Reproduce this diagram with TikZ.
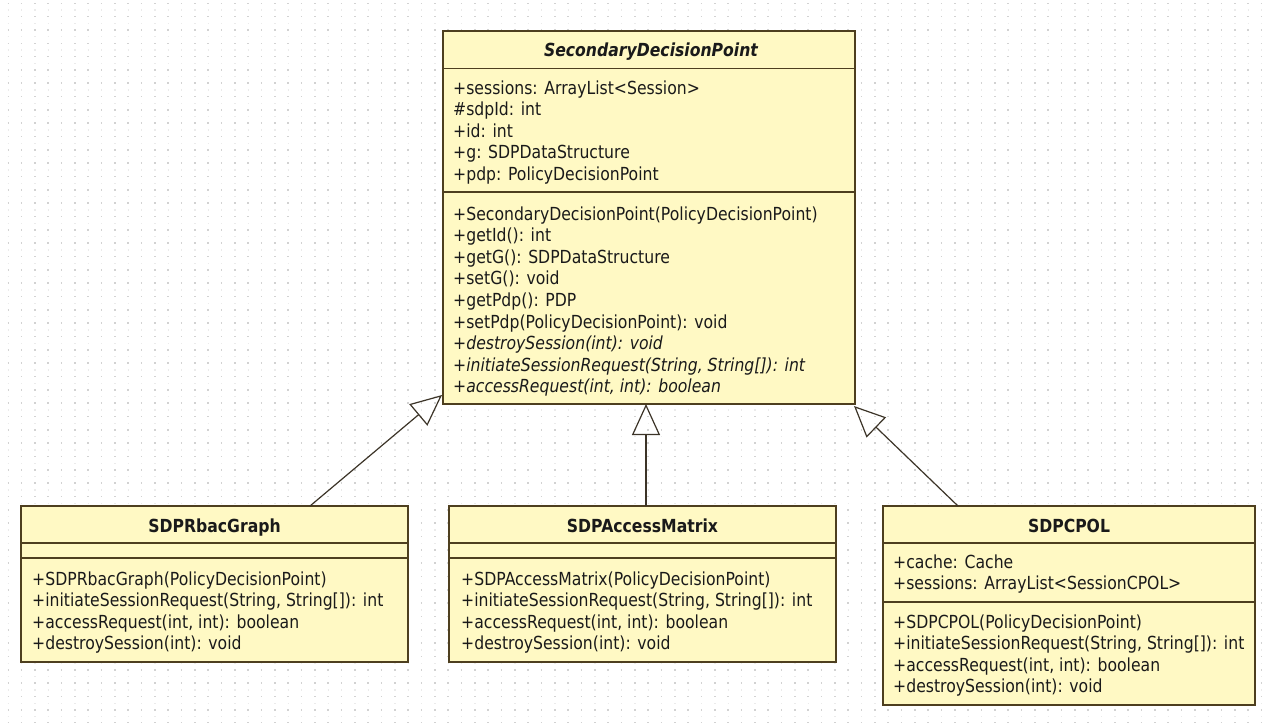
\documentclass[tikz,border=0pt]{standalone}
\usepackage{fontspec}
\setmainfont{DejaVu Sans}[FakeStretch=0.87]
\usetikzlibrary{arrows.meta,calc}

\definecolor{boxfill}{HTML}{FFF9C4}
\definecolor{boxline}{HTML}{4E3F1F}
\definecolor{inkc}{HTML}{1A1A1A}
\definecolor{linkc}{HTML}{3C3428}
\definecolor{dotc}{HTML}{D2D2D2}
\definecolor{dotfaint}{HTML}{EBEBEB}

\newcommand\umlfont{\fontsize{18pt}{21.6pt}\selectfont}

\begin{document}
\begin{tikzpicture}[x=1pt, y=-1pt,
  umlbox/.style={draw=boxline, fill=boxfill, line width=1.5pt,
    inner sep=0pt, outer sep=0pt, anchor=north west},
  sepline/.style={draw=boxline, line width=1.5pt},
  member/.style={anchor=base west, inner sep=0pt, text=inkc, font=\umlfont},
  classname/.style={anchor=base, inner sep=0pt, text=inkc, font=\umlfont\bfseries},
  generalization/.style={draw=linkc, line width=1.2pt,
    -{Triangle[open, length=31pt, width=28pt]}}
]
% canvas and dotted grid
\fill[white] (0,0) rectangle (1264,723);
\useasboundingbox (0,0) rectangle (1264,723);
\foreach \r in {0,...,54} {
  \draw[dotfaint, line width=1.2pt, dash pattern=on 1.2pt off 12.133pt]
    (7.7, 10+13.333*\r) -- (1264, 10+13.333*\r);
  \draw[dotc, line width=1.6pt, dash pattern=on 1.6pt off 11.733pt]
    (7.5, 3.3+13.333*\r) -- (1264, 3.3+13.333*\r);
}

% class boxes
\node[umlbox, minimum width=412pt, minimum height=373pt] (sdp)  at (443,31)  {};
\node[umlbox, minimum width=387pt, minimum height=156pt] (rbac) at (21,506)  {};
\node[umlbox, minimum width=387pt, minimum height=156pt] (am)   at (449,506) {};
\node[umlbox, minimum width=372pt, minimum height=199pt] (cpol) at (883,506) {};

% compartment separators
\foreach \b/\d in {sdp/37.5, sdp/161, rbac/37, rbac/52, am/37, am/52, cpol/37, cpol/96}
  \draw[sepline] ([yshift=-\d pt]\b.north west) -- ([yshift=-\d pt]\b.north east);

% class names
\node[classname, font=\umlfont\bfseries\itshape] (sdp-name) at ($(sdp.north)+(2,25)$) {SecondaryDecisionPoint};
\node[classname] (rbac-name) at ($(rbac.north)+(0,26)$) {SDPRbacGraph};
\node[classname] (am-name)   at ($(am.north)+(0,26)$)   {SDPAccessMatrix};
\node[classname] (cpol-name) at ($(cpol.north)+(0,26)$) {SDPCPOL};

% SecondaryDecisionPoint members
\foreach \t [count=\i from 0] in {{+sessions: ArrayList<Session>}, {\#sdpId: int}, {+id: int},
    {+g: SDPDataStructure}, {+pdp: PolicyDecisionPoint}}
  \node[member] (sdp-attr-\i) at ($(sdp.north west)+(10,63+21.6*\i)$) {\t};
\foreach \t [count=\i from 0] in {{+SecondaryDecisionPoint(PolicyDecisionPoint)}, {+getId(): int},
    {+getG(): SDPDataStructure}, {+setG(): void}, {+getPdp(): PDP},
    {+setPdp(PolicyDecisionPoint): void}, {\itshape +destroySession(int): void},
    {\itshape +initiateSessionRequest(String, String[]): int},
    {\itshape +accessRequest(int, int): boolean}}
  \node[member] (sdp-op-\i) at ($(sdp.north west)+(10,189+21.6*\i)$) {\t};

% SDPRbacGraph members
\foreach \t [count=\i from 0] in {{+SDPRbacGraph(PolicyDecisionPoint)},
    {+initiateSessionRequest(String, String[]): int},
    {+accessRequest(int, int): boolean}, {+destroySession(int): void}}
  \node[member] (rbac-op-\i) at ($(rbac.north west)+(11,79+21.6*\i)$) {\t};

% SDPAccessMatrix members
\foreach \t [count=\i from 0] in {{+SDPAccessMatrix(PolicyDecisionPoint)},
    {+initiateSessionRequest(String, String[]): int},
    {+accessRequest(int, int): boolean}, {+destroySession(int): void}}
  \node[member] (am-op-\i) at ($(am.north west)+(12,79+21.6*\i)$) {\t};

% SDPCPOL members
\foreach \t [count=\i from 0] in {{+cache: Cache}, {+sessions: ArrayList<SessionCPOL>}}
  \node[member] (cpol-attr-\i) at ($(cpol.north west)+(10,62+21.6*\i)$) {\t};
\foreach \t [count=\i from 0] in {{+SDPCPOL(PolicyDecisionPoint)},
    {+initiateSessionRequest(String, String[]): int},
    {+accessRequest(int, int): boolean}, {+destroySession(int): void}}
  \node[member] (cpol-op-\i) at ($(cpol.north west)+(10,122+21.6*\i)$) {\t};

% generalization links
\draw[generalization] ([xshift=289pt]rbac.north west) -- ([xshift=-1pt, yshift=9pt]sdp.south west);
\coordinate (amfoot) at ([xshift=197pt]am.north west);
\draw[generalization] (amfoot) -- (amfoot |- sdp.south);
\draw[generalization] ([xshift=75pt]cpol.north west) -- ([xshift=-1pt, yshift=-2pt]sdp.south east);
\end{tikzpicture}
\end{document}
